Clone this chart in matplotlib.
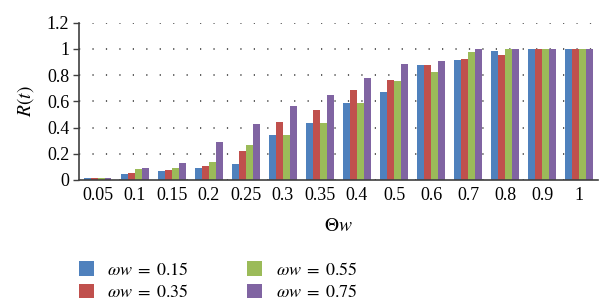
import numpy as np
import matplotlib
matplotlib.use("Agg")
import matplotlib.pyplot as plt
from matplotlib.patches import Patch

plt.rcParams['font.family'] = ['Liberation Serif', 'DejaVu Serif']
plt.rcParams['mathtext.fontset'] = 'stix'

# x categories (Theta w)
theta_w = ['0.05', '0.1', '0.15', '0.2', '0.25', '0.3', '0.35', '0.4',
           '0.5', '0.6', '0.7', '0.8', '0.9', '1']

# R(t) for each omega w
r_015 = [0.013, 0.046, 0.068, 0.091, 0.12, 0.342, 0.433, 0.585, 0.668, 0.881, 0.919, 0.987, 1, 1]
r_035 = [0.013, 0.053, 0.076, 0.106, 0.22, 0.44, 0.532, 0.684, 0.767, 0.881, 0.927, 0.957, 1, 1]
r_055 = [0.013, 0.084, 0.091, 0.137, 0.266, 0.342, 0.433, 0.585, 0.752, 0.828, 0.98, 1, 1, 1]
r_075 = [0.013, 0.091, 0.13, 0.289, 0.425, 0.562, 0.646, 0.782, 0.889, 0.911, 1, 1, 1, 1]

series = [r_015, r_035, r_055, r_075]
labels = [r'$\omega w\; =\; 0.15$', r'$\omega w\; =\; 0.35$',
          r'$\omega w\; =\; 0.55$', r'$\omega w\; =\; 0.75$']
colors = ['#4F81BD', '#C0504D', '#9BBB59', '#8064A2']

fig = plt.figure(figsize=(5.99, 3.04), dpi=100)
ax = fig.add_axes([0.132, 0.408, 0.866, 0.517])

x = np.arange(len(theta_w))
w = 0.1875
for i, (vals, c) in enumerate(zip(series, colors)):
    ax.bar(x + (i - 1.5) * w, vals, width=w, color=c, zorder=2)

ax.set_xlim(-0.5, len(theta_w) - 0.5)
ax.set_ylim(0, 1.2)
ax.set_yticks([0, 0.2, 0.4, 0.6, 0.8, 1, 1.2])
ax.set_yticklabels(['0', '0.2', '0.4', '0.6', '0.8', '1', '1.2'])
ax.set_xticks(x)
ax.set_xticklabels(theta_w)
ax.tick_params(axis='x', length=0, labelsize=13, pad=5)
ax.tick_params(axis='y', length=4, width=1, color='#404040', labelsize=13, pad=3)

ax.yaxis.grid(True, color='#333333', linestyle=(0, (0.8, 8)), linewidth=1.1, zorder=0)
ax.set_axisbelow(True)
for s in ['top', 'right']:
    ax.spines[s].set_visible(False)
ax.spines['left'].set_color('#404040')
ax.spines['bottom'].set_color('#404040')
ax.spines['left'].set_linewidth(1.2)
ax.spines['bottom'].set_linewidth(1.2)

ax.set_ylabel(r'$R(t)$', fontsize=14, labelpad=8)
ax.set_xlabel(r'$\Theta w$', fontsize=14, labelpad=10)

handles = [Patch(facecolor=c) for c in colors]
fig.legend(handles, labels, ncol=2, loc='lower left', bbox_to_anchor=(0.104, -0.045),
           frameon=False, fontsize=13, handlelength=0.85, handleheight=0.85,
           handletextpad=0.75, columnspacing=3.2, labelspacing=0.3)

fig.savefig('out.png', dpi=100)
